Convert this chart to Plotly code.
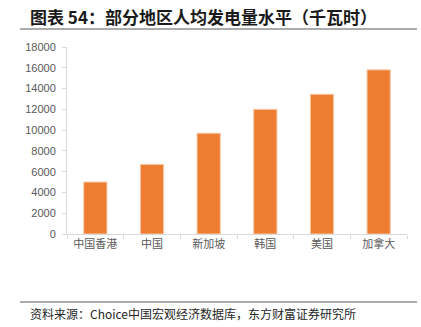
import plotly.graph_objects as go

# Per-capita electricity generation (kWh)
regions = ["中国香港", "中国", "新加坡", "韩国", "美国", "加拿大"]
kwh_per_capita = [5000, 6700, 9700, 12000, 13450, 15800]
y_ticks = [0, 2000, 4000, 6000, 8000, 10000, 12000, 14000, 16000, 18000]

W, H = 421, 327
L, R, T, B = 67, 14, 47, 93
pw, ph = W - L - R, H - T - B


def px_x(x):
    return (x - L) / pw


def px_y(y):
    return (H - B - y) / ph


fig = go.Figure(
    go.Bar(
        x=regions,
        y=kwh_per_capita,
        marker=dict(color="#ED7D31", line=dict(color="#F8C9A8", width=1)),
        width=0.41,
    )
)

fig.update_layout(
    width=W,
    height=H,
    margin=dict(l=L, r=R, t=T, b=B),
    paper_bgcolor="white",
    plot_bgcolor="white",
    showlegend=False,
    font=dict(family="Liberation Sans, Arial, sans-serif", color="#595959"),
    xaxis=dict(
        showline=True,
        linecolor="#D9D9D9",
        linewidth=1,
        ticks="outside",
        tickson="boundaries",
        ticklen=4,
        tickcolor="#D9D9D9",
        showgrid=False,
        tickfont=dict(family="Noto Sans CJK SC", size=11, color="#595959"),
    ),
    yaxis=dict(
        range=[0, 18000],
        tickvals=y_ticks,
        ticktext=[str(v) for v in y_ticks],
        showline=True,
        linecolor="#D9D9D9",
        linewidth=1,
        ticks="outside",
        ticklen=4,
        tickcolor="#D9D9D9",
        showgrid=False,
        zeroline=False,
        ticklabelstandoff=4,
        tickfont=dict(family="Liberation Sans, Arial", size=11, color="#595959"),
    ),
    shapes=[
        dict(type="line", xref="paper", yref="paper",
             x0=px_x(20), x1=px_x(417), y0=px_y(29), y1=px_y(29),
             line=dict(color="#595959", width=1.2)),
        dict(type="line", xref="paper", yref="paper",
             x0=px_x(20), x1=px_x(417), y0=px_y(302), y1=px_y(302),
             line=dict(color="#595959", width=1.2)),
    ],
    annotations=[
        dict(text="<b>图表 54：部分地区人均发电量水平（千瓦时）</b>",
             xref="paper", yref="paper", x=px_x(28), y=px_y(16),
             xanchor="left", yanchor="middle", showarrow=False,
             font=dict(family="Noto Sans CJK SC", size=17, color="#1a1a1a")),
        dict(text="资料来源：Choice中国宏观经济数据库，东方财富证券研究所",
             xref="paper", yref="paper", x=px_x(28), y=px_y(313),
             xanchor="left", yanchor="middle", showarrow=False,
             font=dict(family="Noto Sans CJK SC", size=12, color="#262626")),
    ],
)

fig.write_html("out.html")
